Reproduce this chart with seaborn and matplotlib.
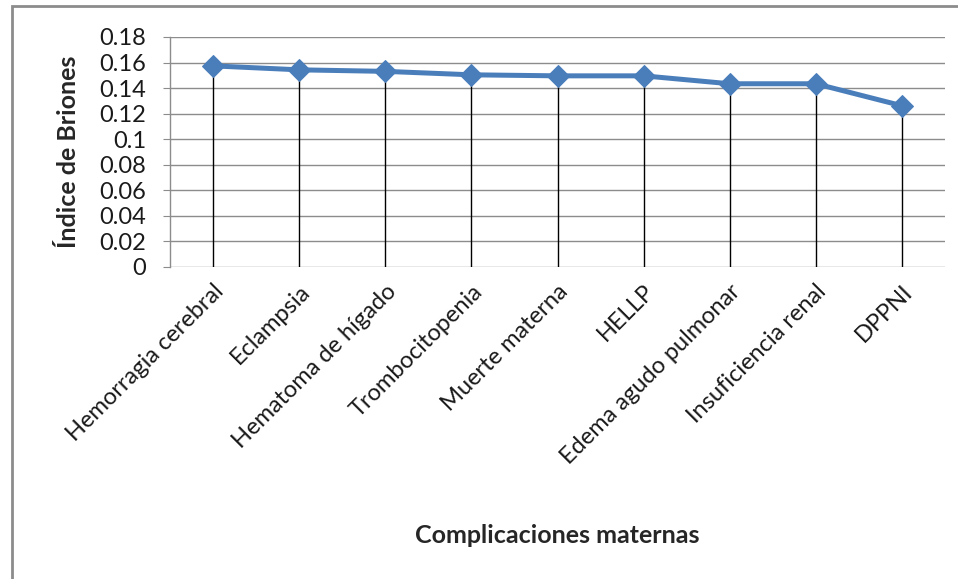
import pandas as pd
import matplotlib.pyplot as plt
import seaborn as sns
from matplotlib.patches import Rectangle

complicaciones = ['Hemorragia cerebral', 'Eclampsia', 'Hematoma de hígado',
                  'Trombocitopenia', 'Muerte materna', 'HELLP',
                  'Edema agudo pulmonar', 'Insuficiencia renal', 'DPPNI']
indice = [0.1574, 0.1543, 0.1531, 0.1504, 0.1496, 0.1496, 0.1434, 0.1434, 0.1262]
y_ticks = [0, 0.02, 0.04, 0.06, 0.08, 0.1, 0.12, 0.14, 0.16, 0.18]
y_labels = ['0', '0.02', '0.04', '0.06', '0.08', '0.1', '0.12', '0.14', '0.16', '0.18']

df = pd.DataFrame({'Complicacion': complicaciones, 'Indice': indice})
df['pos'] = range(len(df))

sns.set_style('white')
plt.rcParams['font.family'] = ['Lato', 'DejaVu Sans']

fig = plt.figure(figsize=(9.58, 5.79), dpi=100)
ax = fig.add_axes([0.1775, 0.5389, 0.8089, 0.3972])

# outer chart frame (only left and top visible)
fig.patches.append(Rectangle((0.0125, -0.05), 1.1, 1.0396, transform=fig.transFigure,
                             fill=False, edgecolor='#8c8c8c', linewidth=2))

# horizontal gridlines
for t in y_ticks:
    ax.axhline(t, color='#8c8c8c', linewidth=1, zorder=1)

# drop lines
ax.vlines(df['pos'], 0, df['Indice'], color='black', linewidth=1, zorder=2)

sns.lineplot(data=df, x='pos', y='Indice', ax=ax, color='#4a7ebb', linewidth=3.6,
             marker='D', markersize=11.5, markeredgecolor='#4a7ebb', zorder=3)

ax.set_xlim(-0.5, len(df) - 0.5)
ax.set_ylim(0, 0.18)
ax.set_yticks(y_ticks)
ax.set_yticklabels(y_labels, fontsize=17, color='#1a1a1a')
ax.set_xticks(df['pos'])
ax.set_xticklabels(complicaciones, rotation=45, ha='right', rotation_mode='anchor',
                   fontsize=17, color='#1a1a1a')
ax.tick_params(axis='y', length=5, color='#8c8c8c', left=True, pad=12)
ax.tick_params(axis='x', length=0, pad=10)

for s in ['top', 'right', 'bottom']:
    ax.spines[s].set_visible(False)
ax.spines['left'].set_color('#8c8c8c')
ax.spines['left'].set_linewidth(1)
ax.grid(False)

ax.set_ylabel('Índice de Briones', fontsize=18, fontweight='bold', labelpad=14)
ax.set_xlabel('')
fig.text(0.582, 0.075, 'Complicaciones maternas', fontsize=18, fontweight='bold',
         ha='center', va='center')

fig.savefig('out.png', dpi=100)
